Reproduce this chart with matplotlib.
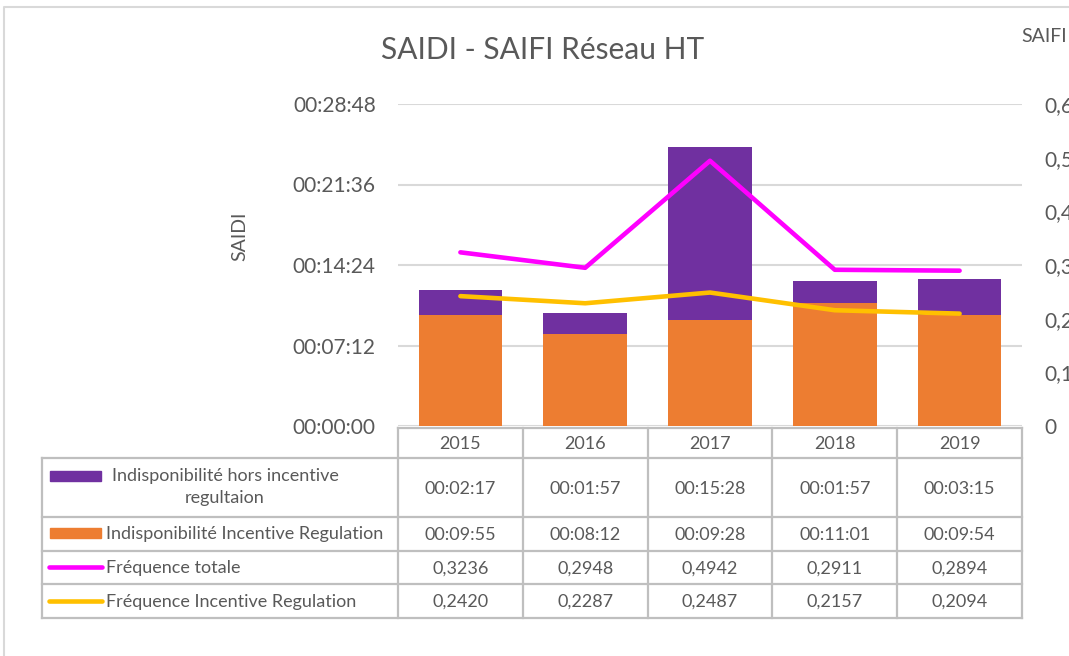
import matplotlib
matplotlib.use("Agg")
import matplotlib.pyplot as plt
import numpy as np
from matplotlib.patches import Rectangle

plt.rcParams['font.family'] = ['Lato', 'DejaVu Sans']

# ---- data ----
years = ['2015', '2016', '2017', '2018', '2019']
hors_incentive_s = [137, 117, 928, 117, 195]       # seconds
incentive_s = [595, 492, 568, 661, 594]            # seconds
freq_totale = [0.3236, 0.2948, 0.4942, 0.2911, 0.2894]
freq_incentive = [0.2420, 0.2287, 0.2487, 0.2157, 0.2094]
series_names = ['Indisponibilité hors incentive\nregultaion',
                'Indisponibilité Incentive Regulation',
                'Fréquence totale',
                'Fréquence Incentive Regulation']
saidi_ticks_s = [0, 432, 864, 1296, 1728]
saifi_ticks = [0, 0.1, 0.2, 0.3, 0.4, 0.5, 0.6]

C_PURPLE = '#7030A0'
C_ORANGE = '#ED7D31'
C_MAG = '#FF00FF'
C_YEL = '#FFC000'
C_TXT = '#595959'
C_GRID = '#D9D9D9'
C_TAB = '#BFBFBF'

W, H = 1069, 656
fig = plt.figure(figsize=(W / 100, H / 100), dpi=100)
fig.patch.set_facecolor('white')


def hms(s):
    return f"{s // 3600:02d}:{(s % 3600) // 60:02d}:{s % 60:02d}"


# pixel overlay axes
pa = fig.add_axes([0, 0, 1, 1], zorder=0)
pa.set_xlim(0, W)
pa.set_ylim(H, 0)
pa.axis('off')
pa.patch.set_alpha(0)

# plot area
x0, x1, ytop, ybot = 398, 1022, 104, 426
ax = fig.add_axes([x0 / W, (H - ybot) / H, (x1 - x0) / W, (ybot - ytop) / H], zorder=2)
ax.patch.set_alpha(0)
x = np.arange(len(years))
ax.bar(x, incentive_s, width=0.67, color=C_ORANGE, zorder=2)
ax.bar(x, hors_incentive_s, width=0.67, bottom=incentive_s, color=C_PURPLE, zorder=2)
ax.set_xlim(-0.5, len(years) - 0.5)
ax.set_ylim(0, 1728)
ax.set_yticks(saidi_ticks_s)
ax.set_yticklabels([hms(s) for s in saidi_ticks_s])
ax.tick_params(axis='y', length=0, pad=16, labelsize=15, labelcolor=C_TXT)
ax.set_xticks([])
ax.yaxis.grid(True, color=C_GRID, linewidth=1.5, zorder=0)
ax.set_axisbelow(True)
for sp in ax.spines.values():
    sp.set_visible(False)

ax2 = ax.twinx()
ax2.plot(x, freq_totale, color=C_MAG, linewidth=3.3, solid_capstyle='round', zorder=3)
ax2.plot(x, freq_incentive, color=C_YEL, linewidth=3.3, solid_capstyle='round', zorder=3)
ax2.set_ylim(0, 0.6)
ax2.set_yticks(saifi_ticks)
ax2.set_yticklabels(['0' if v == 0 else f"{v:.1f}".replace('.', ',') for v in saifi_ticks])
ax2.tick_params(axis='y', length=0, pad=16, labelsize=15, labelcolor=C_TXT)
for sp in ax2.spines.values():
    sp.set_visible(False)

# outer frame
pa.plot([4, 4, W + 5], [H + 5, 7, 7], color=C_GRID, linewidth=1.5)

# titles
pa.text(543, 50, 'SAIDI - SAIFI Réseau HT', ha='center', va='center', fontsize=21.5, color=C_TXT)
pa.text(240, 236, 'SAIDI', ha='center', va='center', rotation=90, fontsize=14, color=C_TXT)
pa.text(1021, 36, 'SAIFI', ha='left', va='center', fontsize=14, color=C_TXT)

# data table
col_edges = np.linspace(x0, x1, len(years) + 1)
row_edges = [428, 458, 517, 551, 584, 618]
tab_left = 42
lw = 1.6
pa.plot([x0, x1], [row_edges[0], row_edges[0]], color=C_TAB, lw=lw)
for r in row_edges[1:]:
    pa.plot([tab_left, x1], [r, r], color=C_TAB, lw=lw)
pa.plot([tab_left, tab_left], [row_edges[1], row_edges[-1]], color=C_TAB, lw=lw)
for c in col_edges:
    pa.plot([c, c], [row_edges[0], row_edges[-1]], color=C_TAB, lw=lw)

fs = 13
rows = [
    [hms(s) for s in hors_incentive_s],
    [hms(s) for s in incentive_s],
    [f"{v:.4f}".replace('.', ',') for v in freq_totale],
    [f"{v:.4f}".replace('.', ',') for v in freq_incentive],
]
centers_x = (col_edges[:-1] + col_edges[1:]) / 2
for j, yr in enumerate(years):
    pa.text(centers_x[j], (row_edges[0] + row_edges[1]) / 2 + 1, yr, ha='center', va='center',
            fontsize=fs, color=C_TXT)
for i, row in enumerate(rows):
    yc = (row_edges[i + 1] + row_edges[i + 2]) / 2 + 1
    for j, val in enumerate(row):
        pa.text(centers_x[j], yc, val, ha='center', va='center', fontsize=fs, color=C_TXT)

# legend keys and labels
pa.add_patch(Rectangle((50, 471), 51, 10, color=C_PURPLE))
pa.add_patch(Rectangle((50, 528), 51, 10, color=C_ORANGE))
pa.plot([49, 102], [567, 567], color=C_MAG, lw=3.3, solid_capstyle='round')
pa.plot([49, 102], [601, 601], color=C_YEL, lw=3.3, solid_capstyle='round')
pa.text(225, 487, series_names[0], ha='center', va='center', fontsize=fs, color=C_TXT,
        multialignment='center', linespacing=1.45)
pa.text(106, 534, series_names[1], ha='left', va='center', fontsize=fs, color=C_TXT)
pa.text(106, 568, series_names[2], ha='left', va='center', fontsize=fs, color=C_TXT)
pa.text(106, 602, series_names[3], ha='left', va='center', fontsize=fs, color=C_TXT)

fig.savefig('out.png', dpi=100)
